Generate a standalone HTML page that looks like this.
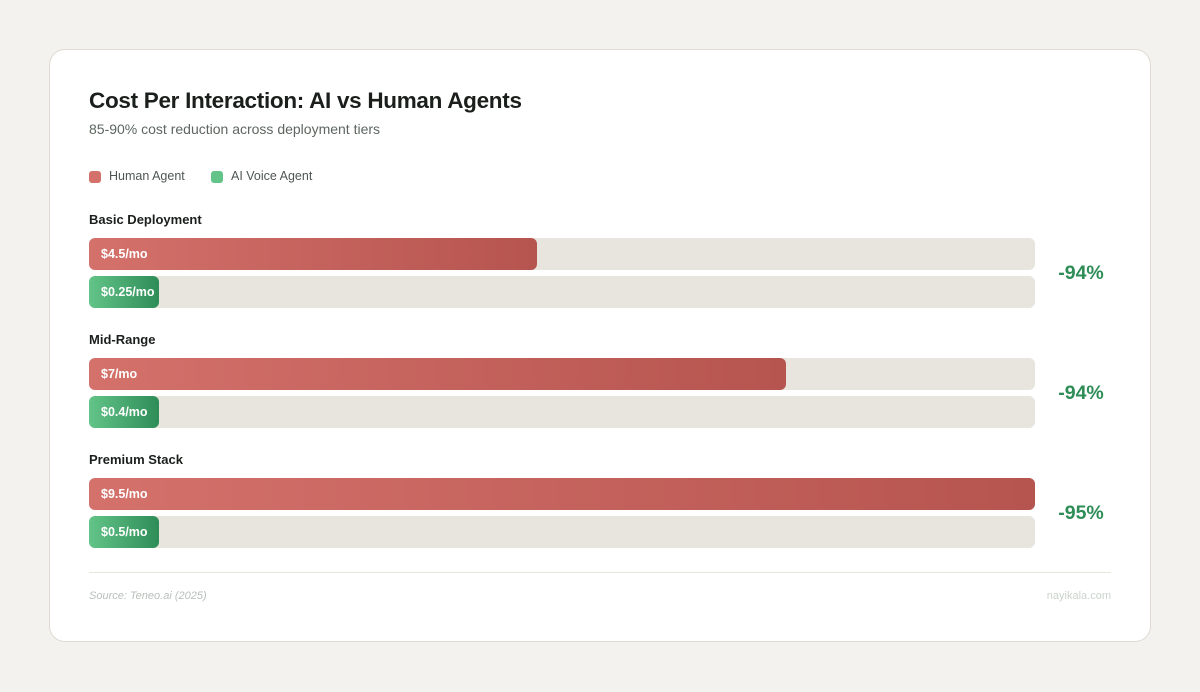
<!DOCTYPE html>
<html><head><meta charset="utf-8"><style>
*{margin:0;padding:0;box-sizing:border-box}
body{width:1200px;height:692px;background:#f4f2ee;font-family:"Liberation Sans",sans-serif;position:relative;overflow:hidden}
.card{position:absolute;left:49px;top:49px;width:1102px;height:593px;background:#fff;border:1px solid #dedbd3;border-radius:16px}
.a{position:absolute}
h1{position:absolute;left:89px;top:88px;font-size:22.5px;font-weight:bold;color:#1a1f1c;letter-spacing:-0.3px}
.sub{left:89px;top:121px;font-size:14px;color:#5d6660}
.leg{top:169px;font-size:12.5px;color:#4f5752}
.sw{width:12px;height:12px;border-radius:3px;top:171px}
.lab{left:89px;font-size:13px;font-weight:bold;color:#1a1f1c}
.track{left:89px;width:946px;height:32px;border-radius:6px;background:#e8e5df}
.bar{left:89px;height:32px;border-radius:6px;color:#fff;font-size:12.5px;font-weight:bold;line-height:32px;padding-left:12px;white-space:nowrap;overflow:hidden}
.r{background:linear-gradient(90deg,#d4716b,#b6544f)}
.g{background:linear-gradient(90deg,#63c489,#2e8d57)}
.pct{left:1036px;width:90px;text-align:center;font-size:19.5px;font-weight:bold;color:#2e8d57}
</style></head><body>
<div class="card"></div>
<h1>Cost Per Interaction: AI vs Human Agents</h1>
<div class="a sub">85-90% cost reduction across deployment tiers</div>
<div class="a sw" style="left:89px;background:#d4716b"></div><div class="a leg" style="left:109px">Human Agent</div>
<div class="a sw" style="left:211px;background:#63c489"></div><div class="a leg" style="left:231px">AI Voice Agent</div>

<div class="a lab" style="top:212px">Basic Deployment</div>
<div class="a track" style="top:238px"></div><div class="a bar r" style="top:238px;width:448px">$4.5/mo</div>
<div class="a track" style="top:276px"></div><div class="a bar g" style="top:276px;width:70px">$0.25/mo</div>
<div class="a pct" style="top:262px">-94%</div>

<div class="a lab" style="top:332px">Mid-Range</div>
<div class="a track" style="top:358px"></div><div class="a bar r" style="top:358px;width:697px">$7/mo</div>
<div class="a track" style="top:396px"></div><div class="a bar g" style="top:396px;width:70px">$0.4/mo</div>
<div class="a pct" style="top:382px">-94%</div>

<div class="a lab" style="top:452px">Premium Stack</div>
<div class="a track" style="top:478px"></div><div class="a bar r" style="top:478px;width:946px">$9.5/mo</div>
<div class="a track" style="top:516px"></div><div class="a bar g" style="top:516px;width:70px">$0.5/mo</div>
<div class="a pct" style="top:502px">-95%</div>

<div class="a" style="left:89px;top:572px;width:1022px;height:1px;background:#e8e5df"></div>
<div class="a" style="left:89px;top:590px;font-size:11px;font-style:italic;color:#b8bfba">Source: Teneo.ai (2025)</div>
<div class="a" style="right:89px;top:590px;font-size:11px;color:#c9d4cd">nayikala.com</div>
</body></html>
